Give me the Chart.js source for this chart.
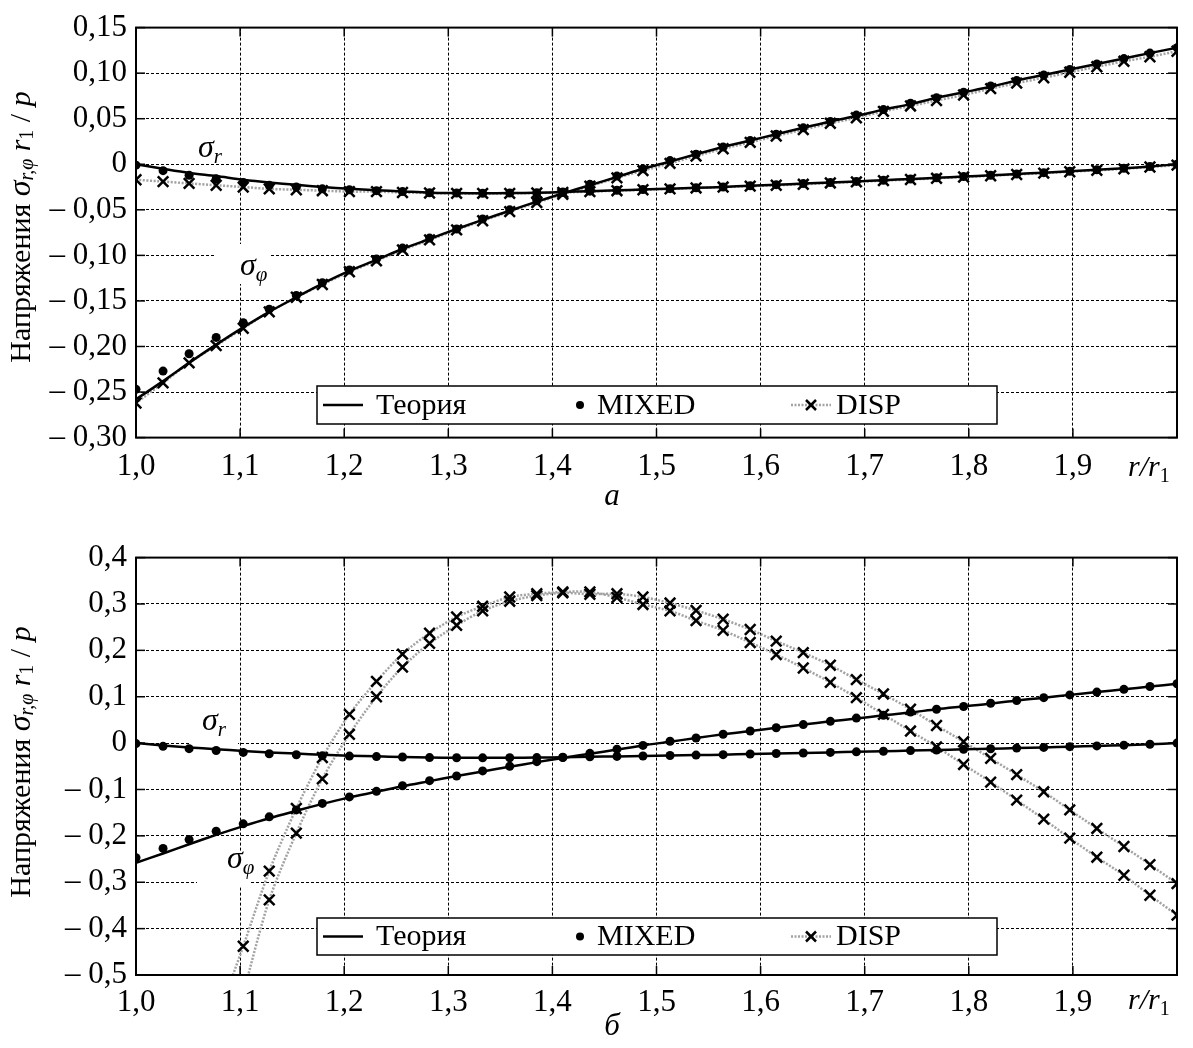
<!DOCTYPE html>
<html>
<head>
<meta charset="utf-8">
<script src="https://cdn.jsdelivr.net/npm/chart.js@4.4.0/dist/chart.umd.min.js"></script>
<style>
  html, body { margin: 0; padding: 0; background: #fff; }
  .panel { position: absolute; left: 0; width: 1193px; }
  #topPanel { top: 0; height: 510px; }
  #bottomPanel { top: 530px; height: 518px; }
</style>
</head>
<body>
<div class="panel" id="topPanel"><canvas id="topChart" width="1193" height="510"></canvas></div>
<div class="panel" id="bottomPanel"><canvas id="bottomChart" width="1193" height="518"></canvas></div>
<script>
// r / r1 nodes
const rValues = [1.000, 1.026, 1.051, 1.077, 1.103, 1.128, 1.154, 1.179, 1.205, 1.231,
                 1.256, 1.282, 1.308, 1.333, 1.359, 1.385, 1.410, 1.436, 1.462, 1.487,
                 1.513, 1.538, 1.564, 1.590, 1.615, 1.641, 1.667, 1.692, 1.718, 1.744,
                 1.769, 1.795, 1.821, 1.846, 1.872, 1.897, 1.923, 1.949, 1.974, 2.000];

// Теория
const theorySigmaR = [0, -0.005, -0.0095, -0.013, -0.017, -0.020, -0.0225, -0.025, -0.027, -0.0285,
                      -0.0298, -0.0312, -0.0316, -0.0318, -0.0316, -0.0312, -0.0305, -0.0295, -0.0286, -0.0277,
                      -0.0268, -0.0259, -0.0249, -0.0236, -0.0224, -0.0212, -0.0200, -0.0188, -0.0175, -0.0162,
                      -0.0149, -0.0135, -0.0121, -0.0107, -0.0092, -0.0077, -0.0061, -0.0044, -0.0024, 0];
const theorySigmaPhi = [-0.258, -0.238, -0.218, -0.198, -0.179, -0.162, -0.146, -0.131, -0.117, -0.105,
                        -0.093, -0.082, -0.071, -0.061, -0.051, -0.041, -0.032, -0.023, -0.014, -0.005,
                        0.003, 0.011, 0.019, 0.026, 0.033, 0.040, 0.047, 0.053, 0.060, 0.066,
                        0.073, 0.079, 0.085, 0.092, 0.098, 0.104, 0.110, 0.116, 0.122, 0.128];

// MIXED
const mixedSigmaR = [-0.001, -0.007, -0.012, -0.016, -0.020, -0.023, -0.025, -0.027, -0.028, -0.029,
                     -0.030, -0.0312, -0.0316, -0.0318, -0.0316, -0.0312, -0.0305, -0.0295, -0.0286, -0.0277,
                     -0.0268, -0.0259, -0.0249, -0.0236, -0.0224, -0.0212, -0.0200, -0.0188, -0.0175, -0.0162,
                     -0.0149, -0.0135, -0.0121, -0.0107, -0.0092, -0.0077, -0.0061, -0.0044, -0.0024, 0];
const mixedSigmaPhi = [-0.247, -0.227, -0.208, -0.190, -0.174, -0.159, -0.144, -0.130, -0.116, -0.104,
                       -0.092, -0.081, -0.071, -0.060, -0.050, -0.040, -0.031, -0.022, -0.013, -0.005,
                       0.004, 0.011, 0.019, 0.026, 0.033, 0.040, 0.047, 0.054, 0.060, 0.067,
                       0.073, 0.079, 0.086, 0.092, 0.098, 0.104, 0.110, 0.116, 0.122, 0.128];

// DISP, panel а
const dispSigmaR = [-0.017, -0.019, -0.021, -0.023, -0.025, -0.027, -0.028, -0.029, -0.030, -0.030,
                    -0.031, -0.0315, -0.032, -0.032, -0.032, -0.0315, -0.031, -0.030, -0.029, -0.028,
                    -0.027, -0.026, -0.025, -0.024, -0.023, -0.022, -0.0205, -0.0193, -0.018, -0.0167,
                    -0.0154, -0.014, -0.0126, -0.0112, -0.0097, -0.0082, -0.0066, -0.005, -0.003, -0.001];
const dispSigmaPhi = [-0.262, -0.240, -0.218, -0.199, -0.180, -0.162, -0.146, -0.132, -0.118, -0.106,
                      -0.094, -0.083, -0.072, -0.062, -0.052, -0.042, -0.033, -0.024, -0.015, -0.007,
                      0.001, 0.009, 0.017, 0.024, 0.031, 0.038, 0.045, 0.051, 0.058, 0.064,
                      0.070, 0.076, 0.083, 0.089, 0.095, 0.101, 0.107, 0.113, 0.118, 0.124];

// DISP, panel б
const dispCurveA = [null, null, null, -0.60, -0.438, -0.276, -0.141, -0.031, 0.062, 0.133,
                    0.192, 0.237, 0.272, 0.295, 0.315, 0.322, 0.326, 0.326, 0.314, 0.299,
                    0.285, 0.264, 0.243, 0.217, 0.191, 0.162, 0.131, 0.098, 0.062, 0.026,
                    -0.008, -0.046, -0.084, -0.123, -0.164, -0.205, -0.246, -0.285, -0.328, -0.371];
const dispCurveB = [null, null, null, null, -0.54, -0.338, -0.194, -0.077, 0.019, 0.100,
                    0.164, 0.215, 0.254, 0.285, 0.306, 0.318, 0.324, 0.321, 0.322, 0.315,
                    0.302, 0.286, 0.267, 0.245, 0.220, 0.195, 0.168, 0.137, 0.106, 0.073,
                    0.038, 0.003, -0.033, -0.068, -0.105, -0.144, -0.184, -0.223, -0.262, -0.303];

// tick labels
const xTickLabels = ['1,0', '1,1', '1,2', '1,3', '1,4', '1,5', '1,6', '1,7', '1,8', '1,9', ''];
const topYTickLabels = ['– 0,30', '– 0,25', '– 0,20', '– 0,15', '– 0,10', '– 0,05', '0', '0,05', '0,10', '0,15'];
const bottomYTickLabels = ['– 0,5', '– 0,4', '– 0,3', '– 0,2', '– 0,1', '0', '0,1', '0,2', '0,3', '0,4'];

const SERIF = '"Liberation Serif", "Times New Roman", serif';
const GRAY = '#a3a3a3';

function pts(values) {
    return rValues.map((r, i) => ({ x: r, y: values[i] }));
}

function drawParts(ctx, x, y, parts) {
    let cx = x;
    parts.forEach(p => {
        ctx.font = p.font;
        ctx.fillText(p.t, cx, y + (p.dy || 0));
        cx += ctx.measureText(p.t).width;
    });
}

function partsWidth(ctx, parts) {
    let w = 0;
    parts.forEach(p => { ctx.font = p.font; w += ctx.measureText(p.t).width; });
    return w;
}

function line(ctx, x1, y1, x2, y2) {
    ctx.beginPath();
    ctx.moveTo(x1, y1);
    ctx.lineTo(x2, y2);
    ctx.stroke();
}

function sigmaParts(sub) {
    return [
        { t: 'σ', font: 'italic 32px ' + SERIF },
        { t: sub, font: 'italic 21px ' + SERIF, dy: 6 }
    ];
}

const titleParts = [
    { t: 'Напряжения ', font: '30px ' + SERIF },
    { t: 'σ', font: 'italic 32px ' + SERIF },
    { t: 'r,φ', font: 'italic 20px ' + SERIF, dy: 6 },
    { t: ' r', font: 'italic 30px ' + SERIF },
    { t: '1', font: '20px ' + SERIF, dy: 6 },
    { t: ' / ', font: '30px ' + SERIF },
    { t: 'p', font: 'italic 30px ' + SERIF }
];

const panelDecor = {
    id: 'panelDecor',
    beforeDatasetsDraw(chart, args, opts) {
        const ctx = chart.ctx;
        ctx.save();
        ctx.fillStyle = '#fff';
        opts.masks.forEach(m => ctx.fillRect(m[0], m[1], m[2], m[3]));
        ctx.restore();
    },
    afterDraw(chart, args, opts) {
        const { ctx, chartArea: a, scales } = chart;
        ctx.save();

        // frame and inward ticks
        ctx.strokeStyle = '#000';
        ctx.lineWidth = 2;
        ctx.strokeRect(a.left, a.top, a.right - a.left, a.bottom - a.top);
        ctx.lineWidth = 1.5;
        scales.x.ticks.forEach(t => {
            const px = scales.x.getPixelForValue(t.value);
            line(ctx, px, a.bottom, px, a.bottom - 9);
            line(ctx, px, a.top, px, a.top + 9);
        });
        scales.y.ticks.forEach(t => {
            const py = scales.y.getPixelForValue(t.value);
            line(ctx, a.left, py, a.left + 9, py);
            line(ctx, a.right, py, a.right - 9, py);
        });

        // legend
        const L = opts.legend;
        const cy = L.y + L.h / 2;
        ctx.fillStyle = '#fff';
        ctx.fillRect(L.x, L.y, L.w, L.h);
        ctx.strokeStyle = '#000';
        ctx.lineWidth = 1.5;
        ctx.strokeRect(L.x, L.y, L.w, L.h);
        ctx.lineWidth = 2.5;
        line(ctx, L.x + 6, cy, L.x + 46, cy);
        ctx.fillStyle = '#000';
        ctx.beginPath();
        ctx.arc(L.x + 263, cy, 4, 0, Math.PI * 2);
        ctx.fill();
        ctx.strokeStyle = GRAY;
        ctx.setLineDash([2, 1.5]);
        ctx.lineWidth = 2.5;
        line(ctx, L.x + 474, cy, L.x + 514, cy);
        ctx.setLineDash([]);
        ctx.strokeStyle = '#000';
        ctx.lineWidth = 2.5;
        line(ctx, L.x + 489, cy - 5, L.x + 499, cy + 5);
        line(ctx, L.x + 489, cy + 5, L.x + 499, cy - 5);
        ctx.font = '30px ' + SERIF;
        ctx.textBaseline = 'middle';
        ctx.fillText('Теория', L.x + 59, cy + 1);
        ctx.fillText('MIXED', L.x + 280, cy + 1);
        ctx.fillText('DISP', L.x + 519, cy + 1);

        // curve labels
        ctx.textBaseline = 'alphabetic';
        drawParts(ctx, opts.sigmaR.x, opts.sigmaR.y, sigmaParts('r'));
        drawParts(ctx, opts.sigmaPhi.x, opts.sigmaPhi.y, sigmaParts('φ'));

        // x axis name
        drawParts(ctx, opts.rLabel.x, opts.rLabel.y, [
            { t: 'r', font: 'italic 30px ' + SERIF },
            { t: '/', font: 'italic 30px ' + SERIF },
            { t: 'r', font: 'italic 30px ' + SERIF },
            { t: '1', font: '20px ' + SERIF, dy: 6 }
        ]);

        // panel letter
        ctx.font = 'italic 31px ' + SERIF;
        ctx.textAlign = 'center';
        ctx.fillText(opts.letter.t, opts.letter.x, opts.letter.y);
        ctx.textAlign = 'left';

        // y axis title
        ctx.translate(opts.title.x, opts.title.y);
        ctx.rotate(-Math.PI / 2);
        ctx.textBaseline = 'middle';
        drawParts(ctx, -partsWidth(ctx, titleParts) / 2, 0, titleParts);

        ctx.restore();
    }
};

function lineSet(values, color, width, dash, order) {
    return {
        data: pts(values), borderColor: color, borderWidth: width, borderDash: dash,
        pointRadius: 0, tension: 0.3, spanGaps: false, order: order
    };
}

function crossSet(values) {
    return {
        data: pts(values), showLine: false, pointStyle: 'crossRot', pointRadius: 7.5,
        pointBorderColor: '#000', pointBorderWidth: 2.5, order: 2
    };
}

function dotSet(values) {
    return {
        data: pts(values), showLine: false, pointStyle: 'circle', pointRadius: 4.5,
        pointBackgroundColor: '#000', pointBorderColor: '#000', pointBorderWidth: 0, order: 1
    };
}

function makePanel(canvasId, cfg) {
    const gridOpts = { color: '#000', lineWidth: 1, drawTicks: false };
    const borderOpts = { display: false, dash: [3, 2] };
    new Chart(document.getElementById(canvasId), {
        type: 'line',
        data: { datasets: cfg.datasets },
        options: {
            responsive: false,
            animation: false,
            events: [],
            layout: { padding: { left: 0, right: 16, top: cfg.padTop, bottom: 0 } },
            plugins: {
                legend: { display: false },
                tooltip: { enabled: false },
                panelDecor: cfg.decor
            },
            scales: {
                x: {
                    type: 'linear', min: 1, max: 2,
                    afterFit: s => { s.height = cfg.xAxisHeight; },
                    ticks: {
                        stepSize: 0.1, padding: cfg.xPad, color: '#000', maxRotation: 0,
                        font: { family: SERIF, size: 31 },
                        callback: v => xTickLabels[Math.round((v - 1) / 0.1)]
                    },
                    grid: gridOpts,
                    border: borderOpts
                },
                y: {
                    type: 'linear', min: cfg.yMin, max: cfg.yMax,
                    afterFit: s => { s.width = 136; },
                    ticks: {
                        stepSize: cfg.yStep, padding: 9, color: '#000',
                        font: { family: SERIF, size: 31 },
                        callback: v => cfg.yLabels[Math.round((v - cfg.yMin) / cfg.yStep)]
                    },
                    grid: gridOpts,
                    border: borderOpts
                }
            }
        },
        plugins: [panelDecor]
    });
}

makePanel('topChart', {
    yMin: -0.3, yMax: 0.15, yStep: 0.05, yLabels: topYTickLabels,
    padTop: 20, xAxisHeight: 72.4, xPad: 11,
    datasets: [
        lineSet(dispSigmaR, GRAY, 2.5, [2, 1.5], 5),
        lineSet(dispSigmaPhi, GRAY, 2.5, [2, 1.5], 5),
        lineSet(theorySigmaR, '#000', 2.5, [], 4),
        lineSet(theorySigmaPhi, '#000', 2.5, [], 4),
        crossSet(dispSigmaR),
        crossSet(dispSigmaPhi),
        dotSet(mixedSigmaR),
        dotSet(mixedSigmaPhi)
    ],
    decor: {
        legend: { x: 317, y: 386, w: 680, h: 38 },
        masks: [[188, 133, 50, 31], [216, 244, 54, 40]],
        sigmaR: { x: 198, y: 157 },
        sigmaPhi: { x: 240, y: 275 },
        rLabel: { x: 1128, y: 476 },
        letter: { t: 'а', x: 612, y: 505 },
        title: { x: 22, y: 227 }
    }
});

makePanel('bottomChart', {
    yMin: -0.5, yMax: 0.4, yStep: 0.1, yLabels: bottomYTickLabels,
    padTop: 23.3, xAxisHeight: 73, xPad: 9,
    datasets: [
        lineSet(dispCurveA, GRAY, 2.5, [2, 1.5], 5),
        lineSet(dispCurveB, GRAY, 2.5, [2, 1.5], 5),
        lineSet(theorySigmaR, '#000', 2.5, [], 4),
        lineSet(theorySigmaPhi, '#000', 2.5, [], 4),
        crossSet(dispCurveA),
        crossSet(dispCurveB),
        dotSet(mixedSigmaR),
        dotSet(mixedSigmaPhi)
    ],
    decor: {
        legend: { x: 317, y: 388, w: 680, h: 37 },
        masks: [[190, 180, 48, 34], [197, 322, 53, 34]],
        sigmaR: { x: 202, y: 200 },
        sigmaPhi: { x: 227, y: 338 },
        rLabel: { x: 1128, y: 479 },
        letter: { t: 'б', x: 612, y: 505 },
        title: { x: 22, y: 232 }
    }
});
</script>
</body>
</html>
